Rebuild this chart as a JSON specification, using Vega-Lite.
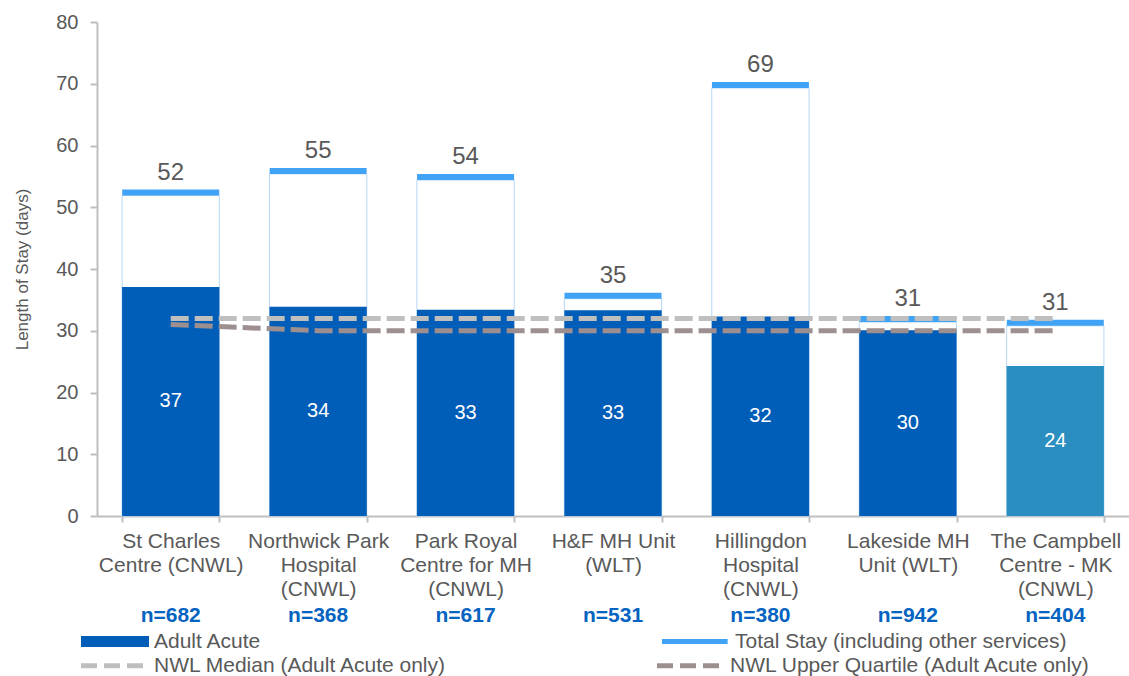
{
  "$schema": "https://vega.github.io/schema/vega-lite/v6.json",
  "width": 1032,
  "height": 494,
  "autosize": {"type": "none"},
  "padding": {"left": 97, "top": 22, "right": 0, "bottom": 160},
  "background": "white",
  "config": {
    "view": {"stroke": null},
    "font": "Liberation Sans",
    "legend": {
      "title": null,
      "orient": "none",
      "padding": 0,
      "labelFont": "Liberation Sans",
      "labelFontSize": 21,
      "labelColor": "#595959",
      "labelLimit": 600,
      "symbolSize": 169,
      "labelOffset": 56,
      "rowPadding": 3
    }
  },
  "datasets": {
    "sites": [
      {"site": "St Charles|Centre (CNWL)|n=682", "adult": 37.1, "total": 51.9},
      {"site": "Northwick Park|Hospital|(CNWL)|n=368", "adult": 33.9, "total": 55.4},
      {"site": "Park Royal|Centre for MH|(CNWL)|n=617", "adult": 33.4, "total": 54.4},
      {"site": "H&F MH Unit|(WLT)|n=531", "adult": 33.3, "total": 35.2},
      {"site": "Hillingdon|Hospital|(CNWL)|n=380", "adult": 32.3, "total": 69.3},
      {"site": "Lakeside MH|Unit (WLT)|n=942", "adult": 30.1, "total": 31.4},
      {"site": "The Campbell|Centre - MK|(CNWL)|n=404", "adult": 24.3, "total": 30.8}
    ],
    "nwl": [
      {"site": "St Charles|Centre (CNWL)|n=682", "series": "NWL Median (Adult Acute only)", "value": 32, "i": 1},
      {"site": "Northwick Park|Hospital|(CNWL)|n=368", "series": "NWL Median (Adult Acute only)", "value": 32, "i": 2},
      {"site": "Park Royal|Centre for MH|(CNWL)|n=617", "series": "NWL Median (Adult Acute only)", "value": 32, "i": 3},
      {"site": "H&F MH Unit|(WLT)|n=531", "series": "NWL Median (Adult Acute only)", "value": 32, "i": 4},
      {"site": "Hillingdon|Hospital|(CNWL)|n=380", "series": "NWL Median (Adult Acute only)", "value": 32, "i": 5},
      {"site": "Lakeside MH|Unit (WLT)|n=942", "series": "NWL Median (Adult Acute only)", "value": 32, "i": 6},
      {"site": "The Campbell|Centre - MK|(CNWL)|n=404", "series": "NWL Median (Adult Acute only)", "value": 32, "i": 7},
      {"site": "St Charles|Centre (CNWL)|n=682", "series": "NWL Upper Quartile (Adult Acute only)", "value": 31, "i": 1},
      {"site": "Northwick Park|Hospital|(CNWL)|n=368", "series": "NWL Upper Quartile (Adult Acute only)", "value": 30, "i": 2},
      {"site": "Park Royal|Centre for MH|(CNWL)|n=617", "series": "NWL Upper Quartile (Adult Acute only)", "value": 30, "i": 3},
      {"site": "H&F MH Unit|(WLT)|n=531", "series": "NWL Upper Quartile (Adult Acute only)", "value": 30, "i": 4},
      {"site": "Hillingdon|Hospital|(CNWL)|n=380", "series": "NWL Upper Quartile (Adult Acute only)", "value": 30, "i": 5},
      {"site": "Lakeside MH|Unit (WLT)|n=942", "series": "NWL Upper Quartile (Adult Acute only)", "value": 30, "i": 6},
      {"site": "The Campbell|Centre - MK|(CNWL)|n=404", "series": "NWL Upper Quartile (Adult Acute only)", "value": 30, "i": 7}
    ]
  },
  "layer": [
    {
      "layer": [
        {
          "data": {"name": "sites"},
          "mark": {"type": "bar", "fill": "white", "stroke": "#b7d7f6", "strokeWidth": 1},
          "encoding": {
            "x": {
              "field": "site", "type": "nominal",
              "scale": {
                "domain": ["St Charles|Centre (CNWL)|n=682", "Northwick Park|Hospital|(CNWL)|n=368", "Park Royal|Centre for MH|(CNWL)|n=617", "H&F MH Unit|(WLT)|n=531", "Hillingdon|Hospital|(CNWL)|n=380", "Lakeside MH|Unit (WLT)|n=942", "The Campbell|Centre - MK|(CNWL)|n=404"],
                "paddingInner": 0.34, "paddingOuter": 0.17
              },
              "axis": {
                "orient": "bottom",
                "title": null,
                "labelAngle": 0,
                "labelExpr": "slice(split(datum.value, '|'), 0, -1)",
                "labelFont": "Liberation Sans",
                "labelFontSize": 21,
                "labelColor": "#595959",
                "labelLineHeight": 24,
                "labelPadding": 8,
                "labelLimit": 0,
                "labelOverlap": false,
                "labelBound": false,
                "tickBand": "extent",
                "tickColor": "#bfbfbf",
                "tickWidth": 2,
                "tickSize": 6,
                "domainColor": "#bfbfbf",
                "domainWidth": 2
              }
            },
            "y": {
              "field": "total", "type": "quantitative",
              "scale": {"domain": [0, 80]},
              "axis": {
                "values": [0, 10, 20, 30, 40, 50, 60, 70, 80],
                "grid": false,
                "title": "Length of Stay (days)",
                "titleFont": "Liberation Sans",
                "titleFontSize": 17,
                "titleFontWeight": "normal",
                "titleColor": "#595959",
                "titlePadding": 24,
                "labelFont": "Liberation Sans",
                "labelFontSize": 20,
                "labelColor": "#595959",
                "labelPadding": 12,
                "tickColor": "#bfbfbf",
                "tickWidth": 2,
                "tickSize": 7,
                "domainColor": "#bfbfbf",
                "domainWidth": 2
              }
            }
          }
        },
        {
          "data": {"name": "sites"},
          "mark": {"type": "bar"},
          "encoding": {
            "x": {"field": "site", "type": "nominal"},
            "y": {"field": "adult", "type": "quantitative"},
            "fill": {
              "condition": {"test": "indexof(datum.site, 'Campbell') >= 0", "value": "#2a8fc0"},
              "datum": "Adult Acute",
              "type": "nominal",
              "scale": {"domain": ["Adult Acute"], "range": ["#005eb8"]},
              "legend": {
                "legendX": -20, "legendY": 609,
                "symbolType": "M-1,-0.85H9.46V0.85H-1Z",
                "symbolStrokeWidth": 0
              }
            }
          }
        },
        {
          "data": {"name": "sites"},
          "mark": {"type": "tick", "size": 97, "thickness": 6, "yOffset": -3, "opacity": 1},
          "encoding": {
            "x": {"field": "site", "type": "nominal"},
            "y": {"field": "total", "type": "quantitative"},
            "color": {
              "datum": "Total Stay (including other services)",
              "type": "nominal",
              "scale": {"domain": ["Total Stay (including other services)"], "range": ["#41a3f5"]},
              "legend": {
                "legendX": 561, "legendY": 609,
                "symbolType": "M-1,-0.4H9.1V0.4H-1Z",
                "symbolStrokeWidth": 0,
                "symbolOpacity": 1
              }
            }
          }
        },
        {
          "data": {"name": "nwl"},
          "mark": {"type": "line", "strokeWidth": 5, "strokeDash": [18, 6]},
          "encoding": {
            "x": {"field": "site", "type": "nominal"},
            "y": {"field": "value", "type": "quantitative"},
            "order": {"field": "i"},
            "stroke": {
              "field": "series", "type": "nominal",
              "scale": {"domain": ["NWL Median (Adult Acute only)", "NWL Upper Quartile (Adult Acute only)"], "range": ["#bfbfbf", "#9d8f8f"]},
              "legend": {
                "legendX": -20, "legendY": 633,
                "columns": 2,
                "columnPadding": 200,
                "symbolType": "M-1,0H9.46",
                "symbolStrokeWidth": 5,
                "symbolDash": [16, 7]
              }
            }
          }
        },
        {
          "data": {"name": "sites"},
          "mark": {"type": "text", "fontSize": 24, "color": "#595959", "dy": -16, "baseline": "alphabetic", "font": "Liberation Sans"},
          "encoding": {
            "x": {"field": "site", "type": "nominal"},
            "y": {"field": "total", "type": "quantitative"},
            "text": {"field": "total", "type": "quantitative", "format": ".0f"}
          }
        }
      ]
    },
    {
      "data": {"name": "sites"},
      "mark": {"type": "text", "fontSize": 20, "color": "white", "baseline": "middle", "font": "Liberation Sans"},
      "encoding": {
        "x": {
          "field": "site", "type": "nominal",
          "scale": {
            "domain": ["St Charles|Centre (CNWL)|n=682", "Northwick Park|Hospital|(CNWL)|n=368", "Park Royal|Centre for MH|(CNWL)|n=617", "H&F MH Unit|(WLT)|n=531", "Hillingdon|Hospital|(CNWL)|n=380", "Lakeside MH|Unit (WLT)|n=942", "The Campbell|Centre - MK|(CNWL)|n=404"],
            "paddingInner": 0.34, "paddingOuter": 0.17
          },
          "axis": {
            "orient": "bottom",
            "title": null,
            "labelAngle": 0,
            "labelExpr": "peek(split(datum.value, '|'))",
            "labelFont": "Liberation Sans",
            "labelFontSize": 21,
            "labelFontWeight": "bold",
            "labelColor": "#0563c1",
            "labelPadding": 88,
            "labelOverlap": false,
            "labelBound": false,
            "ticks": false,
            "domain": false
          }
        },
        "y": {"field": "adult", "type": "quantitative", "scale": {"domain": [0, 160]}, "axis": null},
        "text": {"field": "adult", "type": "quantitative", "format": ".0f"}
      }
    }
  ],
  "resolve": {"scale": {"y": "independent"}, "axis": {"x": "independent", "y": "independent"}}
}
